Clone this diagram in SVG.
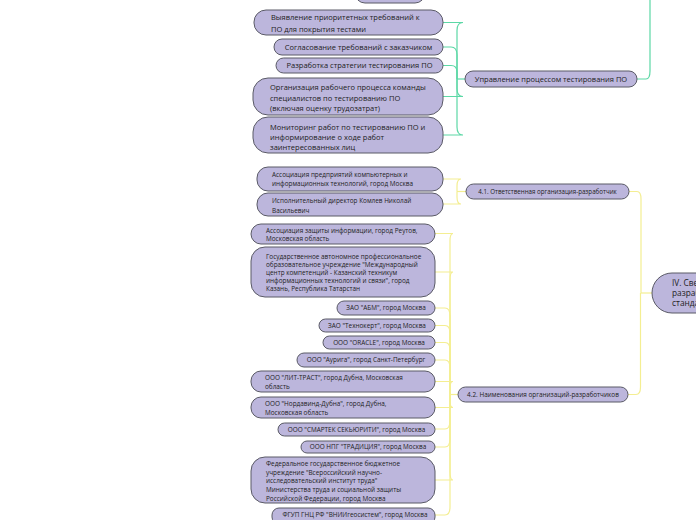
<svg xmlns="http://www.w3.org/2000/svg" width="696" height="520" viewBox="0 0 696 520">
<style>
.n{fill:#bcb6dc;stroke:#5a5a66;stroke-width:1}
.t{font-family:"Open Sans","Noto Sans","DejaVu Sans",sans-serif;fill:#222}
.g8{font-size:7.5px}
.y6{font-size:6.4px}
.c{text-anchor:middle}
.gl{fill:none;stroke:#5cd8a6;stroke-width:1.2}
.yl{fill:none;stroke:#f4ee92;stroke-width:1.2}
</style>
<rect width="696" height="520" fill="#ffffff"/>
<g id="connectors">
<g id="green">
<path class="gl" d="M443,22.5 H463 Q457,22.5 457,30.5 V79"/>
<path class="gl" d="M443,47 H451 Q457,47 457,55 V79"/>
<path class="gl" d="M443,65.5 H451 Q457,65.5 457,72 V79"/>
<path class="gl" d="M443,96.5 H463 Q457,96.5 457,88.5 V79"/>
<path class="gl" d="M443,135 H463 Q457,135 457,127 V79"/>
<path class="gl" d="M457,79 H465"/>
<path class="gl" d="M637,79 H646 Q650,79 650,71 V0"/>
</g>
<g id="yellow">
<path class="yl" d="M443,179 H461 Q457,179 457,186 V191.5"/>
<path class="yl" d="M443,204 H461 Q457,204 457,197 V191.5"/>
<path class="yl" d="M457,191.5 H466"/>
<path class="yl" d="M629,191.5 H637 Q641,191.5 641,199 V293"/>
<path class="yl" d="M628,394.5 H636 Q640.5,394.5 640.5,387 V293"/>
<path class="yl" d="M641,293 H652"/>
<path class="yl" d="M435,233.5 H453 Q450,233.5 450,241 V394.5"/>
<path class="yl" d="M435,272 H453 Q450,272 450,280 V394.5"/>
<path class="yl" d="M435,308 H445 Q450,308 450,316 V394.5"/>
<path class="yl" d="M435,325.5 H445 Q450,325.5 450,333 V394.5"/>
<path class="yl" d="M435,342.5 H445 Q450,342.5 450,350 V394.5"/>
<path class="yl" d="M435,360 H445 Q450,360 450,368 V394.5"/>
<path class="yl" d="M435,381.5 H453 Q450,381.5 450,388 V394.5"/>
<path class="yl" d="M435,407.5 H453 Q450,407.5 450,401 V394.5"/>
<path class="yl" d="M435,429 H445 Q450,429 450,421 V394.5"/>
<path class="yl" d="M435,447 H445 Q450,447 450,439 V394.5"/>
<path class="yl" d="M435,480 H453 Q450,480 450,472 V394.5"/>
<path class="yl" d="M435,515 H445 Q450,515 450,507 V394.5"/>
<path class="yl" d="M450,394.5 H458"/>
</g>
</g>
<g id="node-top"><rect class="n" x="355" y="-20" width="70" height="23" rx="10"/></g>
<g id="node-g1"><rect class="n" x="254" y="10" width="189" height="25" rx="12"/>
<text class="t g8" x="271" y="20">Выявление приоритетных требований к</text>
<text class="t g8" x="271" y="32">ПО для покрытия тестами</text></g>
<g id="node-g2"><rect class="n" x="274" y="39" width="169" height="16" rx="8"/>
<text class="t g8 c" x="358.5" y="49.7">Согласование требований с заказчиком</text></g>
<g id="node-g3"><rect class="n" x="276" y="58" width="167" height="15" rx="7.5"/>
<text class="t g8 c" x="359.5" y="68.2">Разработка стратегии тестирования ПО</text></g>
<g id="node-g4"><rect class="n" x="253" y="78" width="190" height="37" rx="15"/>
<text class="t g8" x="270" y="90">Организация рабочего процесса команды</text>
<text class="t g8" x="270" y="100.5">специалистов по тестированию ПО</text>
<text class="t g8" x="270" y="110.5">(включая оценку трудозатрат)</text></g>
<g id="node-g5"><rect class="n" x="253" y="117" width="190" height="36" rx="15"/>
<text class="t g8" x="270" y="129.6">Мониторинг работ по тестированию ПО и</text>
<text class="t g8" x="270" y="139.6">информирование о ходе работ</text>
<text class="t g8" x="270" y="149.6">заинтересованных лиц</text></g>
<g id="node-mgmt"><rect class="n" x="465" y="71" width="172" height="16" rx="8"/>
<text class="t g8 c" x="551" y="81.7">Управление процессом тестирования ПО</text></g>
<g id="node-41"><rect class="n" x="466" y="184" width="163" height="15" rx="7.5"/>
<text class="t c" style="font-size:6.2px" x="547.5" y="194">4.1. Ответственная организация-разработчик</text></g>
<g id="node-a"><rect class="n" x="257" y="167" width="186" height="24" rx="11"/>
<text class="t y6" x="272" y="177.3">Ассоциация предприятий компьютерных и</text>
<text class="t y6" x="272" y="186.3">информационных технологий, город Москва</text></g>
<g id="node-b"><rect class="n" x="257" y="193" width="186" height="23" rx="11"/>
<text class="t y6" x="272" y="203.3">Исполнительный директор Комлев Николай</text>
<text class="t y6" x="272" y="213">Васильевич</text></g>
<g id="node-42"><rect class="n" x="458" y="387" width="170" height="15" rx="7.5"/>
<text class="t c" style="font-size:6.4px" x="543" y="397">4.2. Наименования организаций-разработчиков</text></g>
<g id="node-c"><rect class="n" x="251" y="224" width="184" height="20" rx="10"/>
<text class="t y6" x="266" y="232.6">Ассоциация защиты информации, город Реутов,</text>
<text class="t y6" x="266" y="241.4">Московская область</text></g>
<g id="node-d"><rect class="n" x="251" y="247" width="184" height="50" rx="14"/>
<text class="t y6" x="266" y="259.3">Государственное автономное профессиональное</text>
<text class="t y6" x="266" y="267.1">образовательное учреждение "Международный</text>
<text class="t y6" x="266" y="274.9">центр компетенций - Казанский техникум</text>
<text class="t y6" x="266" y="282.7">информационных технологий и связи", город</text>
<text class="t y6" x="266" y="290.5">Казань, Республика Татарстан</text></g>
<g id="node-e"><rect class="n" x="337" y="301" width="98" height="14" rx="7"/>
<text class="t y6 c" x="386" y="310.3">ЗАО "АБМ", город Москва</text></g>
<g id="node-f"><rect class="n" x="319" y="319" width="116" height="13" rx="6.5"/>
<text class="t y6 c" x="377" y="327.8">ЗАО "Технокерт", город Москва</text></g>
<g id="node-g"><rect class="n" x="323" y="336" width="112" height="13" rx="6.5"/>
<text class="t y6 c" x="379" y="344.8">ООО "ORACLE", город Москва</text></g>
<g id="node-h"><rect class="n" x="297" y="353" width="138" height="14" rx="7"/>
<text class="t y6 c" x="366" y="362.3">ООО "Аурига", город Санкт-Петербург</text></g>
<g id="node-i"><rect class="n" x="251" y="371" width="184" height="21" rx="10"/>
<text class="t y6" x="265" y="379.6">ООО "ЛИТ-ТРАСТ", город Дубна, Московская</text>
<text class="t y6" x="265" y="388.6">область</text></g>
<g id="node-j"><rect class="n" x="251" y="397" width="184" height="21" rx="10"/>
<text class="t y6" x="265" y="405.8">ООО "Нордавинд-Дубна", город Дубна,</text>
<text class="t y6" x="265" y="414.8">Московская область</text></g>
<g id="node-k"><rect class="n" x="278" y="423" width="157" height="13" rx="6.5"/>
<text class="t y6 c" x="356.5" y="431.6">ООО "СМАРТЕК СЕКЬЮРИТИ", город Москва</text></g>
<g id="node-l"><rect class="n" x="301" y="441" width="134" height="12" rx="6"/>
<text class="t y6 c" x="368" y="449.3">ООО НПГ "ТРАДИЦИЯ", город Москва</text></g>
<g id="node-m"><rect class="n" x="251" y="457" width="184" height="46" rx="14"/>
<text class="t y6" x="266" y="466.3">Федеральное государственное бюджетное</text>
<text class="t y6" x="266" y="474.8">учреждение "Всероссийский научно-</text>
<text class="t y6" x="266" y="483.3">исследовательский институт труда"</text>
<text class="t y6" x="266" y="492.2">Министерства труда и социальной защиты</text>
<text class="t y6" x="266" y="501.1">Российской Федерации, город Москва</text></g>
<g id="node-n"><rect class="n" x="272" y="508" width="163" height="16" rx="7"/>
<text class="t y6 c" x="355" y="517.3">ФГУП ГНЦ РФ "ВНИИгеосистем", город Москва</text></g>
<g id="node-iv"><rect class="n" x="652" y="273" width="120" height="40" rx="20"/>
<text class="t" style="font-size:8.3px" x="672" y="286">IV. Сведения об организациях –</text>
<text class="t" style="font-size:8.3px" x="672" y="296">разработчиках профессионального</text>
<text class="t" style="font-size:8.3px" x="672" y="306">стандарта</text></g>
</svg>
